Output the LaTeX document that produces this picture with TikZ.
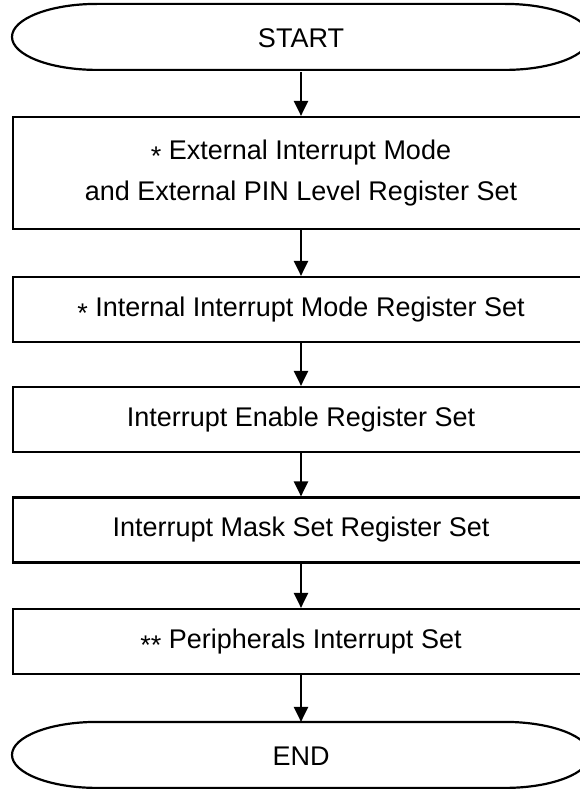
\documentclass[tikz,border=0pt]{standalone}
\usepackage{fontspec}
\setmainfont{Liberation Sans}
\usetikzlibrary{arrows.meta}
% asterisk set at mid height of the lower-case letters
\newcommand\midstar{\raisebox{-0.22em}{*}}
\begin{document}
\begin{tikzpicture}[x=1pt,y=-1pt,
  line width=2.2pt,
  stepbox/.style={draw, rectangle, minimum width=576pt, inner sep=0pt, align=center, font=\fontsize{27}{41}\selectfont},
  termbox/.style={rectangle, minimum width=576pt, minimum height=66pt, inner sep=0pt, font=\fontsize{27}{32}\selectfont},
  flow/.style={-{Triangle[length=15pt,width=14pt]}}
]
\useasboundingbox (0,0) rectangle (580,789);
\clip (0,0) rectangle (580,789);

% terminals: straight top and bottom with half-elliptic ends
\node[termbox] (start) at (301,38) {START};
\node[termbox] (end) at (301,756) {END};
\foreach \t in {start,end}{
  \draw (\t.north) ++(-204,0) -- ++(408,0)
        arc[start angle=-90,end angle=90,x radius=85,y radius=33]
        -- ++(-408,0)
        arc[start angle=90,end angle=270,x radius=85,y radius=33] -- cycle;
}

\node[stepbox, minimum height=112pt] (ext) at (301,173)
  {\midstar{} External Interrupt Mode\\and External PIN Level Register Set};
\node[stepbox, minimum height=65pt] (int) at (301,309.5)
  {\midstar{} Internal Interrupt Mode Register Set};
\node[stepbox, minimum height=65pt] (ien) at (301,419.5)
  {Interrupt Enable Register Set};
\node[stepbox, minimum height=65pt] (msk) at (301,530)
  {Interrupt Mask Set Register Set};
\node[stepbox, minimum height=65pt] (per) at (301,641.5)
  {\midstar\midstar{} Peripherals Interrupt Set};

\draw[flow] (start.south) -- (ext.north);
\draw[flow] (ext.south) -- (int.north);
\draw[flow] (int.south) -- (ien.north);
\draw[flow] (ien.south) -- (msk.north);
\draw[flow] (msk.south) -- (per.north);
\draw[flow] (per.south) -- (end.north);
\end{tikzpicture}
\end{document}
